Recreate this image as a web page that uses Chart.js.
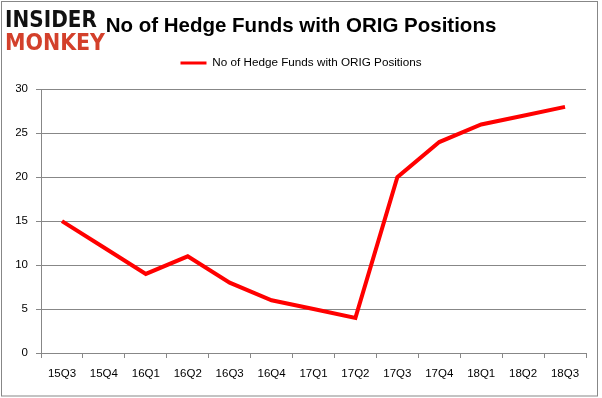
<!DOCTYPE html>
<html>
<head>
<meta charset="utf-8">
<script src="https://cdn.jsdelivr.net/npm/chart.js@4"></script>
<style>
  html, body { margin: 0; padding: 0; background: #fff; }
  #wrap { width: 602px; height: 398px; position: relative; }
</style>
</head>
<body>
<div id="wrap"><canvas id="chart" width="602" height="398"></canvas></div>
<script>
// Hedge fund count per quarter
const quarters = ["15Q3", "15Q4", "16Q1", "16Q2", "16Q3", "16Q4", "17Q1",
                  "17Q2", "17Q3", "17Q4", "18Q1", "18Q2", "18Q3"];
const fundCounts = [15, 12, 9, 11, 8, 6, 5, 4, 20, 24, 26, 27, 28];
const seriesLabel = "No of Hedge Funds with ORIG Positions";
const chartTitle = "No of Hedge Funds with ORIG Positions";

const FONT = '"Liberation Sans", Arial, sans-serif';
const GRID = "#878787";

// frame + logo, drawn behind/over the chart
const decorations = {
    id: "decorations",
    beforeInit(chart) {
        // legend box needs extra room below it
        const fit = chart.legend.fit;
        chart.legend.fit = function () {
            fit.call(this);
            this.height += 10.5;
        };
    },
    beforeDraw(chart) {
        const ctx = chart.ctx;
        ctx.save();
        ctx.fillStyle = "#fff";
        ctx.fillRect(0, 0, chart.width, chart.height);
        ctx.strokeStyle = GRID;
        ctx.lineWidth = 1;
        ctx.strokeRect(1.5, 1.5, 596, 394.5);
        ctx.restore();
    },
    afterDraw(chart) {
        const ctx = chart.ctx;
        const fitText = (text, x, top, w, h, color) => {
            ctx.save();
            ctx.font = "bold 100px \"DejaVu Sans\", sans-serif";
            const tw = ctx.measureText(text).width;
            ctx.translate(x, top + h);
            ctx.scale(w / tw, h / 73);
            ctx.fillStyle = color;
            ctx.textBaseline = "alphabetic";
            ctx.fillText(text, 0, 0);
            ctx.restore();
        };
        fitText("INSIDER", 5, 10, 92, 17, "#111");
        fitText("MONKEY", 5, 33, 100, 17, "#d3402b");
    },
};

new Chart(document.getElementById("chart"), {
    type: "line",
    data: {
        labels: quarters,
        datasets: [{
            label: seriesLabel,
            data: fundCounts,
            borderColor: "#ff0000",
            backgroundColor: "#ff0000",
            borderWidth: 4,
            borderJoinStyle: "miter",
            pointRadius: 0,
            tension: 0,
            fill: false,
        }],
    },
    options: {
        responsive: false,
        animation: false,
        devicePixelRatio: 1,
        layout: { padding: { top: 0, left: 16, right: 16, bottom: 0 } },
        plugins: {
            title: {
                display: true,
                text: chartTitle,
                color: "#000",
                font: { family: FONT, size: 20.5, weight: "bold" },
                padding: { top: 14, bottom: 8.5 },
            },
            legend: {
                display: true,
                labels: {
                    color: "#000",
                    font: { family: FONT, size: 11.7 },
                    boxWidth: 26,
                    boxHeight: 3,
                    padding: 10,
                    generateLabels(chart) {
                        const items = Chart.defaults.plugins.legend.labels.generateLabels(chart);
                        items.forEach((it) => { it.lineWidth = 0; });
                        return items;
                    },
                },
            },
            tooltip: { enabled: false },
        },
        scales: {
            x: {
                offset: true,
                grid: {
                    offset: true,
                    drawOnChartArea: false,
                    color: GRID,
                    tickLength: 5,
                },
                border: { color: GRID, width: 1 },
                ticks: {
                    color: "#000",
                    font: { family: FONT, size: 11.5 },
                    padding: 9,
                    maxRotation: 0,
                    autoSkip: false,
                },
                afterFit(scale) { scale.height = 45; },
            },
            y: {
                min: 0,
                max: 30,
                grid: { color: GRID, tickLength: 5 },
                border: { color: GRID, width: 1 },
                ticks: {
                    stepSize: 5,
                    color: "#000",
                    font: { family: FONT, size: 11.5 },
                    padding: 8,
                },
                afterFit(scale) { scale.width = 25; },
            },
        },
    },
    plugins: [decorations],
});
</script>
</body>
</html>
